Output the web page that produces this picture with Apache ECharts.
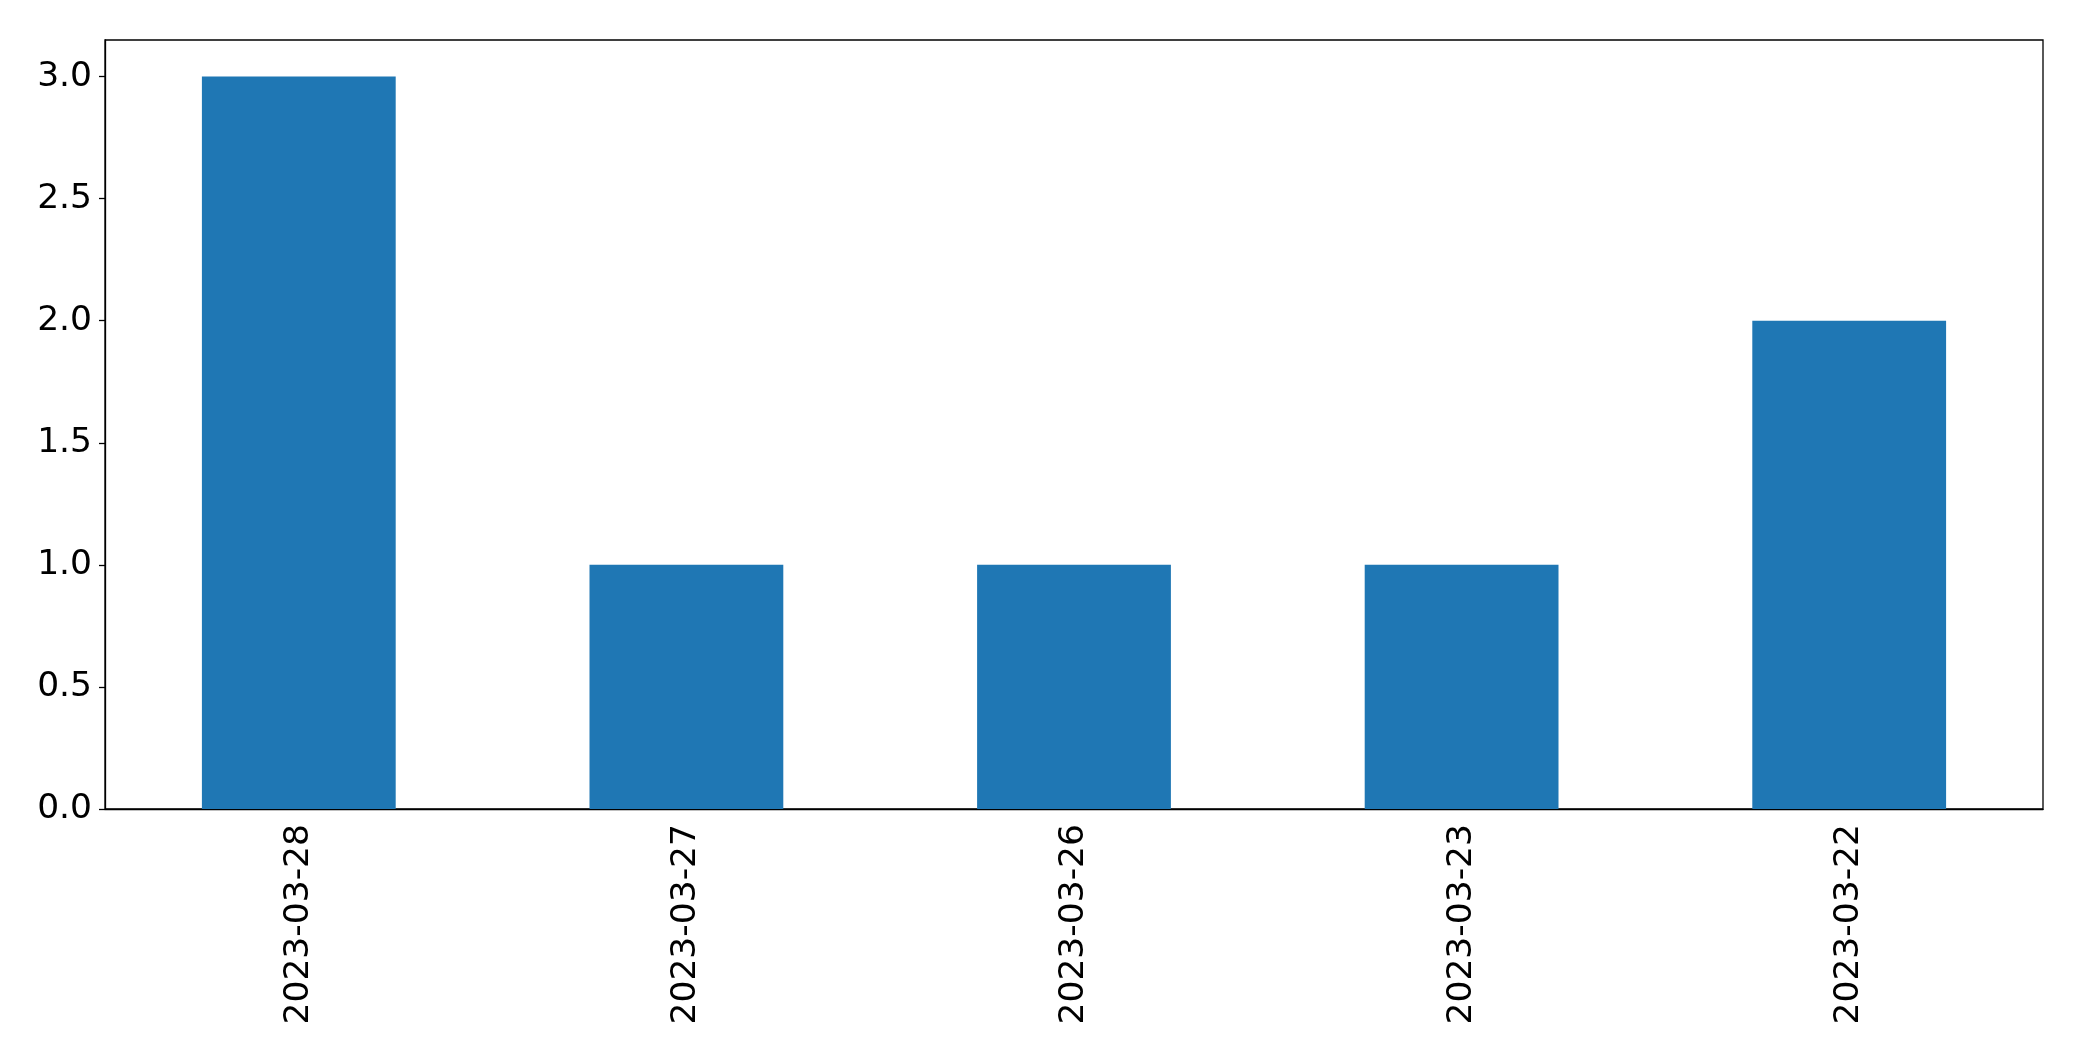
<!DOCTYPE html>
<html>
<head>
<meta charset="utf-8">
<script src="https://cdn.jsdelivr.net/npm/echarts@6/dist/echarts.min.js"></script>
<style>html,body{margin:0;padding:0;background:#fff}#c{width:2082px;height:1061px}</style>
</head>
<body>
<div id="c"></div>
<script>
const categories = ['2023-03-28', '2023-03-27', '2023-03-26', '2023-03-23', '2023-03-22'];
const counts = [3, 1, 1, 1, 2];
const yTicks = [0, 0.5, 1.0, 1.5, 2.0, 2.5, 3.0];

const chart = echarts.init(document.getElementById('c'), null, {renderer: 'canvas'});
const font = 'DejaVu Sans';
chart.setOption({
  animation: false,
  backgroundColor: '#ffffff',
  grid: {left: 105, right: 39, top: 40, bottom: 252, show: true, borderColor: '#000', borderWidth: 1.3, backgroundColor: 'transparent'},
  xAxis: {
    type: 'category',
    data: categories,
    axisLine: {lineStyle: {color: '#000', width: 1.3}},
    axisTick: {alignWithLabel: true, length: 6, lineStyle: {color: '#000', width: 1.3}},
    axisLabel: {rotate: 90, margin: 15, fontFamily: font, fontSize: 34.5, color: '#000'},
    splitLine: {show: false}
  },
  yAxis: {
    type: 'value',
    min: 0,
    max: 3.15,
    axisLine: {show: true, lineStyle: {color: '#000', width: 1.3}},
    axisTick: {show: true, length: 6, customValues: yTicks, lineStyle: {color: '#000', width: 1.3}},
    axisLabel: {margin: 13, fontFamily: font, fontSize: 34.5, color: '#000', customValues: yTicks,
      formatter: v => v.toFixed(1)},
    splitLine: {show: false}
  },
  series: [{
    type: 'bar',
    data: counts,
    barWidth: '50%',
    itemStyle: {color: '#1f77b4'}
  }]
});
</script>
</body>
</html>
